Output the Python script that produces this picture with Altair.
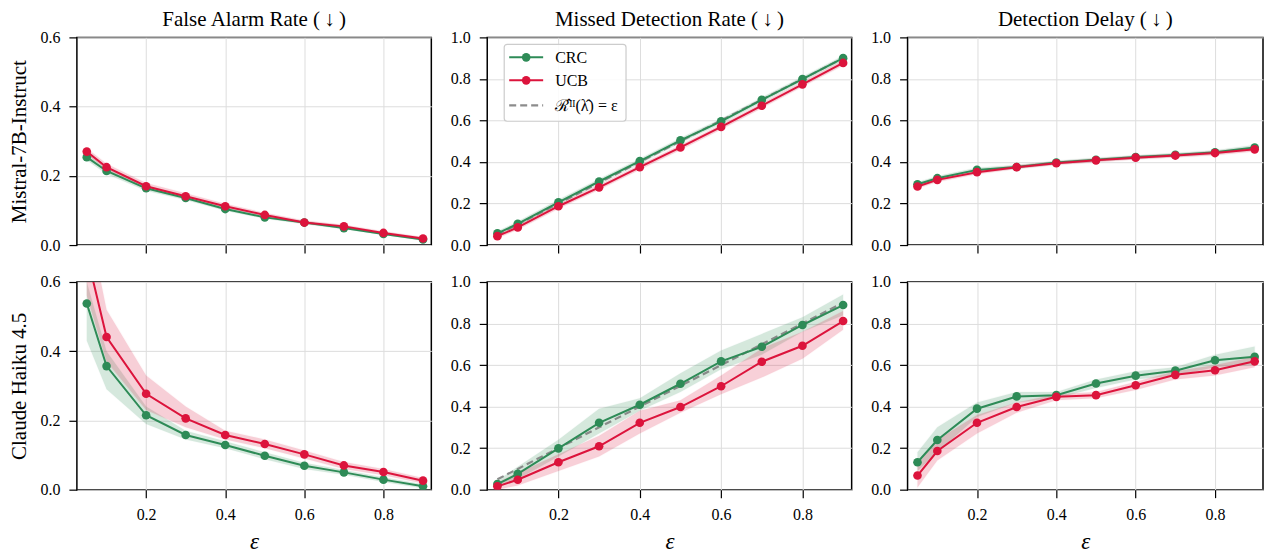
import altair as alt
import pandas as pd

FONT = "Liberation Serif"
GREEN = "#2e8b57"
RED = "#dc143c"
GRAY = "#808080"

EPS = [0.05, 0.1, 0.2, 0.3, 0.4, 0.5, 0.6, 0.7, 0.8, 0.9]
COL_TITLES = ["False Alarm Rate (\u2009↓\u2009)", "Missed Detection Rate (\u2009↓\u2009)", "Detection Delay (\u2009↓\u2009)"]
ROW_TITLES = ["Mistral-7B-Instruct", "Claude Haiku 4.5"]
METHODS = ["CRC", "UCB"]
DASH_LABEL = "ℛ̂ᴵᴵ(λ̂) = ε"

# ---- Mistral-7B-Instruct ----
m_far_crc = [0.254, 0.214, 0.164, 0.136, 0.104, 0.080, 0.065, 0.049, 0.032, 0.016]
m_far_crc_lo = [0.245, 0.205, 0.157, 0.130, 0.099, 0.076, 0.061, 0.046, 0.029, 0.013]
m_far_crc_hi = [0.263, 0.223, 0.171, 0.142, 0.110, 0.085, 0.069, 0.053, 0.035, 0.019]
m_far_ucb = [0.270, 0.225, 0.170, 0.141, 0.112, 0.087, 0.065, 0.054, 0.035, 0.019]
m_far_ucb_lo = [0.262, 0.217, 0.163, 0.135, 0.106, 0.082, 0.061, 0.050, 0.032, 0.016]
m_far_ucb_hi = [0.280, 0.235, 0.179, 0.150, 0.119, 0.093, 0.071, 0.059, 0.040, 0.023]

m_mdr_crc = [0.056, 0.102, 0.206, 0.306, 0.404, 0.504, 0.596, 0.699, 0.799, 0.900]
m_mdr_crc_lo = [0.046, 0.091, 0.194, 0.294, 0.392, 0.492, 0.584, 0.687, 0.787, 0.888]
m_mdr_crc_hi = [0.066, 0.113, 0.218, 0.318, 0.416, 0.516, 0.608, 0.711, 0.811, 0.912]
m_mdr_ucb = [0.043, 0.085, 0.187, 0.278, 0.375, 0.470, 0.569, 0.671, 0.774, 0.877]
m_mdr_ucb_lo = [0.033, 0.074, 0.175, 0.266, 0.363, 0.458, 0.557, 0.659, 0.762, 0.865]
m_mdr_ucb_hi = [0.053, 0.096, 0.199, 0.290, 0.387, 0.482, 0.581, 0.683, 0.786, 0.889]

m_dd_crc = [0.293, 0.322, 0.362, 0.376, 0.397, 0.411, 0.424, 0.434, 0.447, 0.470]
m_dd_crc_lo = [0.283, 0.312, 0.352, 0.367, 0.388, 0.402, 0.415, 0.425, 0.437, 0.458]
m_dd_crc_hi = [0.303, 0.332, 0.372, 0.385, 0.406, 0.420, 0.433, 0.443, 0.457, 0.482]
m_dd_ucb = [0.282, 0.314, 0.351, 0.375, 0.394, 0.408, 0.421, 0.431, 0.443, 0.461]
m_dd_ucb_lo = [0.272, 0.304, 0.341, 0.366, 0.385, 0.399, 0.412, 0.422, 0.433, 0.450]
m_dd_ucb_hi = [0.292, 0.324, 0.361, 0.384, 0.403, 0.417, 0.430, 0.440, 0.453, 0.472]

# ---- Claude Haiku 4.5 ----
h_far_crc = [0.538, 0.357, 0.215, 0.158, 0.129, 0.098, 0.069, 0.050, 0.029, 0.010]
h_far_crc_lo = [0.430, 0.290, 0.190, 0.145, 0.120, 0.088, 0.060, 0.043, 0.022, 0.004]
h_far_crc_hi = [0.600, 0.400, 0.240, 0.170, 0.140, 0.108, 0.078, 0.057, 0.036, 0.016]
h_far_ucb = [0.680, 0.441, 0.277, 0.206, 0.158, 0.132, 0.102, 0.070, 0.051, 0.026]
h_far_ucb_lo = [0.560, 0.370, 0.230, 0.180, 0.145, 0.120, 0.090, 0.060, 0.042, 0.018]
h_far_ucb_hi = [0.800, 0.520, 0.330, 0.240, 0.170, 0.145, 0.113, 0.080, 0.060, 0.034]

h_mdr_crc = [0.027, 0.076, 0.199, 0.322, 0.409, 0.510, 0.618, 0.688, 0.793, 0.889]
h_mdr_crc_lo = [0.010, 0.050, 0.160, 0.270, 0.380, 0.470, 0.580, 0.650, 0.760, 0.840]
h_mdr_crc_hi = [0.045, 0.110, 0.240, 0.390, 0.440, 0.560, 0.670, 0.750, 0.830, 0.940]
h_mdr_ucb = [0.016, 0.048, 0.132, 0.209, 0.322, 0.398, 0.498, 0.616, 0.693, 0.812]
h_mdr_ucb_lo = [0.000, 0.020, 0.090, 0.160, 0.270, 0.370, 0.460, 0.540, 0.630, 0.770]
h_mdr_ucb_hi = [0.035, 0.080, 0.170, 0.260, 0.380, 0.430, 0.550, 0.680, 0.760, 0.860]

h_dd_crc = [0.132, 0.239, 0.390, 0.449, 0.455, 0.511, 0.549, 0.573, 0.623, 0.640]
h_dd_crc_lo = [0.090, 0.180, 0.350, 0.420, 0.440, 0.490, 0.530, 0.550, 0.590, 0.600]
h_dd_crc_hi = [0.180, 0.300, 0.420, 0.470, 0.470, 0.530, 0.570, 0.590, 0.650, 0.690]
h_dd_ucb = [0.068, 0.186, 0.322, 0.398, 0.447, 0.455, 0.503, 0.553, 0.575, 0.618]
h_dd_ucb_lo = [0.010, 0.140, 0.270, 0.370, 0.430, 0.440, 0.480, 0.530, 0.550, 0.590]
h_dd_ucb_hi = [0.120, 0.240, 0.360, 0.420, 0.460, 0.470, 0.520, 0.570, 0.600, 0.640]

PANELS = [
    [
        (m_far_crc, m_far_crc_lo, m_far_crc_hi, m_far_ucb, m_far_ucb_lo, m_far_ucb_hi),
        (m_mdr_crc, m_mdr_crc_lo, m_mdr_crc_hi, m_mdr_ucb, m_mdr_ucb_lo, m_mdr_ucb_hi),
        (m_dd_crc, m_dd_crc_lo, m_dd_crc_hi, m_dd_ucb, m_dd_ucb_lo, m_dd_ucb_hi),
    ],
    [
        (h_far_crc, h_far_crc_lo, h_far_crc_hi, h_far_ucb, h_far_ucb_lo, h_far_ucb_hi),
        (h_mdr_crc, h_mdr_crc_lo, h_mdr_crc_hi, h_mdr_ucb, h_mdr_ucb_lo, h_mdr_ucb_hi),
        (h_dd_crc, h_dd_crc_lo, h_dd_crc_hi, h_dd_ucb, h_dd_ucb_lo, h_dd_ucb_hi),
    ],
]

WIDTHS = [355, 365, 356]
HEIGHT = 208
COLORS = {"CRC": GREEN, "UCB": RED}


def make_df(vals):
    crc, crc_lo, crc_hi, ucb, ucb_lo, ucb_hi = vals
    rows = []
    for m, v, lo, hi in (("CRC", crc, crc_lo, crc_hi), ("UCB", ucb, ucb_lo, ucb_hi)):
        for e, a, b, c in zip(EPS, v, lo, hi):
            rows.append({"eps": e, "method": m, "value": a, "lo": b, "hi": c})
    return pd.DataFrame(rows)


def panel(r, c):
    df = make_df(PANELS[r][c])
    ymax = 0.6 if c == 0 else 1.0
    ystep = 0.1 if c == 0 else 0.2
    yvals = [round(i * ystep, 1) for i in range(int(round(ymax / ystep)) + 1)]

    if r == 0:
        xaxis = alt.Axis(values=[0.2, 0.4, 0.6, 0.8], labels=False, title=None)
    else:
        xaxis = alt.Axis(values=[0.2, 0.4, 0.6, 0.8], format=".1f", title="ε",
                         titleFontStyle="italic", titleFontSize=23, titlePadding=8)
    if c == 0:
        yaxis = alt.Axis(values=yvals, format=".1f", title=ROW_TITLES[r],
                         titleFontSize=21, titlePadding=10)
    else:
        yaxis = alt.Axis(values=yvals, format=".1f", title=None)

    xs = alt.Scale(domain=[0.025, 0.921], nice=False, zero=False)
    ys = alt.Scale(domain=[0, ymax], nice=False)
    base = alt.Chart(df)

    layers = []
    for i, m in enumerate(METHODS):
        band = base.transform_filter(alt.datum.method == m).mark_area(
            color=COLORS[m], opacity=0.2, clip=True,
            stroke=COLORS[m], strokeOpacity=0.12, strokeWidth=1.5
        ).encode(
            x=alt.X("eps:Q", scale=xs, axis=xaxis) if i == 0 else alt.X("eps:Q", scale=xs),
            y=alt.Y("lo:Q", scale=ys, axis=yaxis) if i == 0 else alt.Y("lo:Q", scale=ys),
            y2="hi:Q",
        )
        layers.append(band)

    if c == 1:
        dash = base.transform_filter(alt.datum.method == "CRC").mark_line(
            color=GRAY, strokeDash=[7, 4], strokeWidth=2.2, opacity=0.9, clip=True
        ).encode(x=alt.X("eps:Q", scale=xs), y=alt.Y("eps:Q", scale=ys))
        layers.append(dash)

    for m in METHODS:
        sub = base.transform_filter(alt.datum.method == m)
        line = sub.mark_line(color=COLORS[m], strokeWidth=2, clip=True).encode(
            x=alt.X("eps:Q", scale=xs), y=alt.Y("value:Q", scale=ys))
        pts = sub.mark_circle(color=COLORS[m], size=75, opacity=1, clip=True).encode(
            x=alt.X("eps:Q", scale=xs), y=alt.Y("value:Q", scale=ys))
        layers += [line, pts]

    if r == 0 and c == 1:
        one = alt.Chart(pd.DataFrame({"k": [0]}))
        box = one.mark_rect(fill="white", fillOpacity=0.85, stroke="#cccccc",
                            strokeWidth=1.2, cornerRadius=3).encode(
            x=alt.value(17), x2=alt.value(139), y=alt.value(7), y2=alt.value(84))
        layers.append(box)
        entries = [("CRC", GREEN, 20, False), ("UCB", RED, 43, False), (DASH_LABEL, GRAY, 68, True)]
        for lab, col, yy, dashed in entries:
            if dashed:
                layers.append(one.mark_rule(color=col, strokeWidth=2.2, strokeDash=[7, 4], opacity=0.9).encode(
                    x=alt.value(22), x2=alt.value(56), y=alt.value(yy)))
            else:
                layers.append(one.mark_rule(color=col, strokeWidth=2).encode(
                    x=alt.value(22), x2=alt.value(56), y=alt.value(yy)))
                layers.append(one.mark_circle(color=col, size=75, opacity=1).encode(
                    x=alt.value(39), y=alt.value(yy)))
            layers.append(one.mark_text(text=lab, align="left", baseline="middle", font=FONT,
                                        fontSize=16, color="black").encode(
                x=alt.value(68), y=alt.value(yy + 1)))

    ch = alt.layer(*layers).properties(width=WIDTHS[c], height=HEIGHT)
    if r == 0:
        ch = ch.properties(title=alt.TitleParams(COL_TITLES[c], font=FONT, fontSize=21,
                                                 fontWeight="normal", color="black",
                                                 anchor="middle", offset=-1))
    return ch


charts = [panel(r, c) for r in range(2) for c in range(3)]

chart = alt.concat(*charts, columns=3, spacing={"row": 37, "column": 56}, bounds="flush").properties(
    padding={"left": 0, "top": 0, "right": 0, "bottom": 0}
).configure_view(
    stroke="black", strokeWidth=1.5
).configure_axis(
    domain=False, grid=True, gridColor="#dddddd", gridWidth=1,
    tickColor="black", tickWidth=1.2, tickSize=8, labelOverlap=False,
    labelFont=FONT, labelFontSize=16, labelColor="black", labelPadding=9,
    titleFont=FONT, titleColor="black", titleFontWeight="normal",
)

chart.save("out.html", embed_options={"renderer": "svg", "actions": False})
